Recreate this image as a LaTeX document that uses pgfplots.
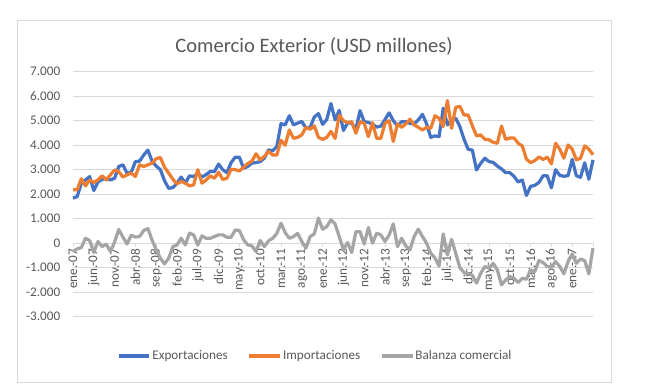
\documentclass[border=0pt]{standalone}
\usepackage{fontspec}
\setmainfont{Carlito}
\usepackage{pgfplots}
\usepackage{pgfplotstable}
\pgfplotsset{compat=1.18}
\definecolor{cexp}{HTML}{4472C4}
\definecolor{cimp}{HTML}{ED7D31}
\definecolor{cbal}{HTML}{A5A5A5}
\definecolor{cgrid}{HTML}{D9D9D9}
\definecolor{ctext}{HTML}{595959}

\pgfplotstableread{
i exp imp bal
0 1840 2180 -340
1 1900 2180 -230
2 2450 2630 -180
3 2580 2340 200
4 2720 2580 110
5 2150 2480 -380
6 2500 2580 70
7 2600 2750 -140
8 2650 2580 -40
9 2580 2790 -340
10 2650 2990 50
11 3130 2920 560
12 3200 2700 250
13 2850 2790 -30
14 2900 2860 330
15 3330 2720 250
16 3350 3200 270
17 3600 3130 520
18 3800 3200 600
19 3350 3260 130
20 3150 3450 -270
21 3000 3500 -610
22 2550 3100 -850
23 2240 2860 -610
24 2270 2610 -140
25 2450 2420 -70
26 2700 2520 200
27 2450 2450 -70
28 2750 2340 410
29 2720 2380 340
30 2850 3000 -70
31 2700 2450 300
32 2800 2580 200
33 2930 2750 200
34 2920 2650 270
35 3230 2900 340
36 3000 2600 340
37 2880 2650 240
38 3290 3020 240
39 3510 3000 540
40 3510 2950 520
41 3060 3100 140
42 3130 3250 -70
43 3270 3350 -110
44 3290 3650 -340
45 3330 3400 110
46 3470 3550 -140
47 3810 3750 100
48 3770 3600 200
49 3950 3600 400
50 4880 4200 820
51 4830 4000 430
52 5200 4620 200
53 4830 4280 270
54 4900 4320 400
55 4970 4420 70
56 4700 4730 -200
57 4720 4650 270
58 5150 4790 380
59 5290 4320 1020
60 4850 4240 570
61 5050 4320 680
62 5700 4560 950
63 5030 4280 790
64 5420 5230 270
65 4600 5000 -270
66 4910 4920 30
67 4900 4960 -380
68 4650 4490 470
69 5410 4960 470
70 4960 4900 -30
71 4930 4350 640
72 4860 4920 0
73 4740 4280 410
74 4780 4280 340
75 5050 4900 70
76 5320 5000 340
77 5000 4150 790
78 4790 4870 -140
79 4960 4730 200
80 4960 4870 -110
81 4890 5060 -270
82 4870 4830 270
83 5030 4730 570
84 5260 4620 270
85 4870 4730 0
86 4320 4690 -410
87 4380 5200 -600
88 4350 5100 -930
89 5510 4760 380
90 4830 5820 -480
91 5030 4690 160
92 5100 5550 -410
93 4760 5580 -1000
94 4240 5230 -1200
95 3830 5230 -1250
96 3800 4790 -1310
97 2990 4380 -1630
98 3260 4420 -1230
99 3470 4240 -950
100 3330 4220 -1020
101 3300 4120 -820
102 3150 4080 -1090
103 3030 4780 -1700
104 2880 4240 -1500
105 2880 4290 -1360
106 2730 4300 -1430
107 2500 4080 -1600
108 2580 3970 -1430
109 1950 3430 -1470
110 2320 3290 -1090
111 2360 3370 -1160
112 2480 3520 -710
113 2750 3420 -790
114 2750 3510 -950
115 2260 3240 -980
116 3000 4080 -750
117 2770 3840 -950
118 2730 3470 -1250
119 2760 4010 -750
120 3420 3840 -440
121 2750 3400 -820
122 2690 3470 -650
123 3280 3970 -710
124 2610 3840 -1250
125 3400 3610 -200
}\datatable

\begin{document}
\begin{tikzpicture}
\path[use as bounding box] (0,0) rectangle (483.75pt,291.75pt);
\fill[white] (0,0) rectangle (483.75pt,291.75pt);
\draw[cgrid, line width=0.75pt] (12.75pt,5.25pt) rectangle (458.25pt,276pt);
\node[text=ctext, font=\fontsize{15.4}{18}\selectfont] at (235.5pt,257.25pt) {Comercio Exterior (USD millones)};
\begin{axis}[
  at={(54.75pt,54.225pt)}, anchor=south west,
  scale only axis, width=390pt, height=183.75pt,
  xmin=0, xmax=125, ymin=-3000, ymax=7000,
  axis x line*=middle, axis y line*=left,
  hide obscured x ticks=false,
  hide obscured y ticks=false,
  x axis line style={draw=cgrid, line width=0.75pt, -},
  y axis line style={draw=none},
  xtick={0,5,...,125},
  xticklabels={ene.-07,jun.-07,nov.-07,abr.-08,sep.-08,feb.-09,jul.-09,dic.-09,may.-10,oct.-10,mar.-11,ago.-11,ene.-12,jun.-12,nov.-12,abr.-13,sep.-13,feb.-14,jul.-14,dic.-14,may.-15,oct.-15,mar.-16,ago.-16,ene.-17,{}},
  xtick align=outside,
  major tick length=3pt,
  xtick style={draw=cgrid, line width=0.75pt},
  xticklabel style={rotate=90, anchor=east, inner sep=1pt, text=ctext, font=\fontsize{9.9}{11}\selectfont},
  ytick={-3000,-2000,...,7000},
  yticklabels={-3.000,-2.000,-1.000,0,1.000,2.000,3.000,4.000,5.000,6.000,7.000},
  ytick style={draw=none},
  yticklabel style={text=ctext, font=\fontsize{9.9}{11}\selectfont, anchor=east, xshift=-6pt},
  ymajorgrids,
  major grid style={draw=cgrid, line width=0.75pt},
  clip=false,
  legend columns=3,
  legend style={at={(0.4654,-0.1604)}, anchor=center, draw=none, fill=none,
    font=\fontsize{9.9}{11}\selectfont, text=ctext,
    nodes={inner sep=1pt},
    /tikz/every even column/.append style={column sep=14pt}},
  legend image code/.code={\draw[#1, line width=2.4pt] (0pt,0pt) -- (23pt,0pt);},
  every axis plot/.append style={line width=2.4pt, line join=round, no markers},
]
\addplot[cexp] table[x=i, y=exp] {\datatable};
\addlegendentry{Exportaciones}
\addplot[cimp] table[x=i, y=imp] {\datatable};
\addlegendentry{Importaciones}
\addplot[cbal] table[x=i, y=bal] {\datatable};
\addlegendentry{Balanza comercial}
\end{axis}
\end{tikzpicture}
\end{document}
